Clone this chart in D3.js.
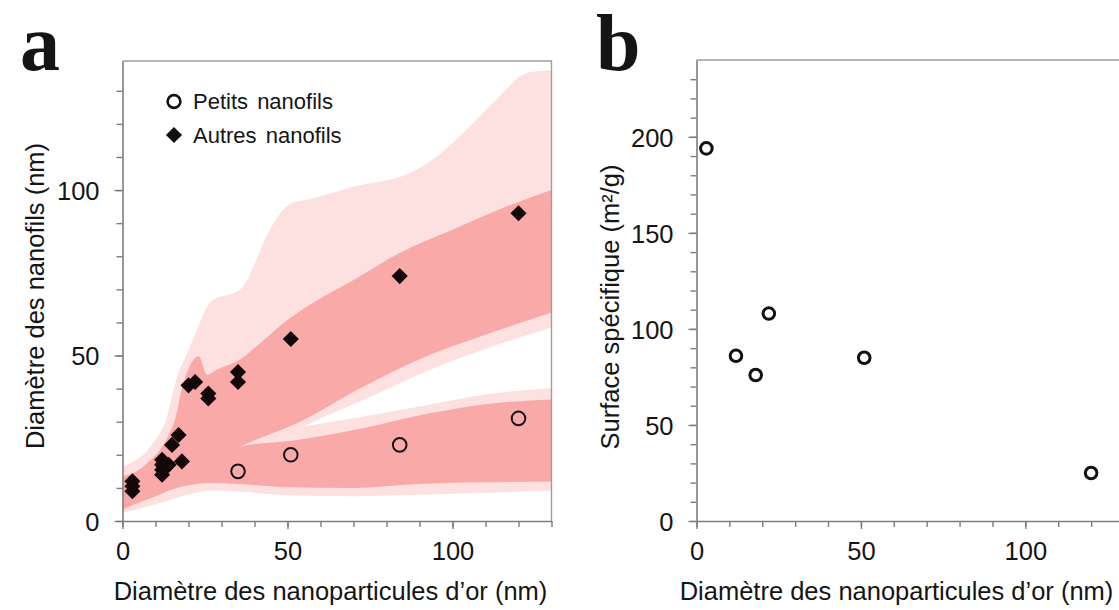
<!DOCTYPE html>
<html>
<head>
<meta charset="utf-8">
<script src="https://cdn.jsdelivr.net/npm/d3@7/dist/d3.min.js"></script>
<style>
  html, body { margin: 0; padding: 0; background: #fff; }
  svg { display: block; }
  text { font-family: "Liberation Sans", Arial, sans-serif; fill: #151515; }
</style>
</head>
<body>
<svg id="chart" width="1119" height="610"></svg>
<script>
// ---------- DATA ----------
// Panel a : diamètre des nanofils vs diamètre des nanoparticules
const petitsX = [35, 51, 84, 120];
const petitsY = [15, 20, 23, 31];

const autresX = [3, 3, 3, 12, 12, 12, 12, 13, 14, 15, 17, 18, 20, 22, 26, 26, 35, 35, 51, 84, 120];
const autresY = [9, 10.5, 12, 14, 15.5, 17, 18.5, 16, 17, 23, 26, 18, 41, 42, 37, 38.5, 42, 45, 55, 74, 93];

// shaded bands (boundaries as [x, y] pairs, data units)
const autresLightUpper = [[0,16.5],[5,19],[10,24.5],[13,30],[16.6,43.7],[19.6,50.8],[22.5,57.5],[25.7,64.9],[28.7,67.5],[32.7,68.5],[36.7,71],[39.7,77],[42.7,84],[47.8,93],[50.9,95.8],[57,97.3],[70,101],[87.5,105.3],[95,110],[103.5,117.5],[113,127],[123,135.5],[130,136.2]];
const autresLightLower = [[0,3],[20,10],[35.8,18],[54.9,28.6],[73.2,36.7],[93.4,45.8],[110,52],[130,58.5]];
const autresDarkUpper = [[0,13.5],[5,15.5],[8,18],[11,21],[14,26],[16,31],[18,40],[20,46],[23.1,49.8],[25.6,44.2],[28.6,45.8],[34.7,48.3],[41.8,53.8],[48.9,59.9],[57,65.5],[70.3,73],[84,81],[100,88],[115,94.5],[130,100]];
const autresDarkLower = [[0,6],[15,12],[30,19.5],[35.8,22.5],[53,29.6],[73.2,40.7],[93.4,50.3],[110,56.3],[130,63]];
const petitsLightUpper = [[0,14],[20,20],[35.8,25],[54.9,28.6],[73.2,31.6],[93.4,35.2],[110,38.2],[130,40.2]];
const petitsLightLower = [[0,2.5],[10,5],[20,8],[26,9.2],[35,8.9],[50,7.8],[70,7.5],[90,7.9],[110,8.5],[130,9.2]];
const petitsDarkUpper = [[0,10],[15,16],[30,21],[35.8,22.5],[53,24.5],[73.2,28.1],[93.4,32.6],[110,35.3],[130,36.7]];
const petitsDarkLower = [[0,3.5],[5,5.5],[10,7.5],[15,9.5],[20,10.8],[26,11.5],[35,11.2],[50,10.2],[70,10],[90,11.2],[110,11.7],[130,11.9]];

// Panel b : surface spécifique
const surfX = [3, 12, 18, 22, 51, 120];
const surfY = [194, 86, 76, 108, 85, 25];

// ticks
const xMajorTicks = [0, 50, 100];
const xMinorTicks = d3.range(0, 131, 10);
const aYMajorTicks = [0, 50, 100];
const aYMinorTicks = d3.range(0, 131, 10);
const bYMajorTicks = [0, 50, 100, 150, 200];
const bYMinorTicks = d3.range(0, 231, 10);

const legendLabels = ["Petits nanofils", "Autres nanofils"];
const xTitle = "Diamètre des nanoparticules d’or (nm)";
const aYTitle = "Diamètre des nanofils (nm)";
const bYTitle = "Surface spécifique (m²/g)";

// ---------- STYLE ----------
const LIGHT = "#fde0e0";
const DARK = "#faa9a9";
const AXIS = "#7d7d7d";
const FRAME = "#9d9d9d";

const svg = d3.select("#chart");

// ---------- PANEL A ----------
const ax = d3.scaleLinear().domain([0, 130]).range([122.5, 551.5]);
const ay = d3.scaleLinear().domain([0, 139]).range([521, 61]);

const defs = svg.append("defs");
defs.append("clipPath").attr("id", "plotA").append("rect")
  .attr("x", ax(0)).attr("y", ay(139)).attr("width", ax(130) - ax(0)).attr("height", ay(0) - ay(139));

const gA = svg.append("g");
const bandLayer = gA.append("g").attr("clip-path", "url(#plotA)");

function band(upper, lower, color, id) {
  // region above 'lower' (clip) intersected with region below 'upper'
  const above = d3.area().curve(d3.curveMonotoneX)
    .x(d => ax(d[0])).y0(d => ay(d[1])).y1(() => ay(139) - 50);
  const below = d3.area().curve(d3.curveMonotoneX)
    .x(d => ax(d[0])).y0(() => ay(0) + 50).y1(d => ay(d[1]));
  defs.append("clipPath").attr("id", id).append("path").attr("d", above(lower));
  bandLayer.append("g").attr("clip-path", `url(#${id})`)
    .append("path").attr("d", below(upper)).attr("fill", color);
}
band(autresLightUpper, autresLightLower, LIGHT, "cAL");
band(petitsLightUpper, petitsLightLower, LIGHT, "cPL");
band(autresDarkUpper, autresDarkLower, DARK, "cAD");
band(petitsDarkUpper, petitsDarkLower, DARK, "cPD");

// frame (top & right)
gA.append("path")
  .attr("d", `M${ax(0)},${ay(139)}H${ax(130)}V${ay(0)}`)
  .attr("fill", "none").attr("stroke", FRAME).attr("stroke-width", 1.4);

function styleAxis(g) {
  g.selectAll("path.domain").attr("stroke", AXIS).attr("stroke-width", 1.6);
  g.selectAll(".tick line").attr("stroke", AXIS).attr("stroke-width", 1.4);
  g.selectAll(".tick text").style("font-size", "25.5px").attr("fill", "#151515")
    .style("font-family", '"Liberation Sans", Arial, sans-serif');
}

function drawAxes(xs, ys, yMinor, yMajor) {
  const gxm = svg.append("g").attr("transform", `translate(0,${ys(0)})`)
    .call(d3.axisBottom(xs).tickValues(xMinorTicks.filter(v => xs(v) <= 1119)).tickSize(6).tickFormat(""));
  gxm.select("path.domain").remove();
  styleAxis(gxm);
  const gx = svg.append("g").attr("transform", `translate(0,${ys(0)})`)
    .call(d3.axisBottom(xs).tickValues(xMajorTicks).tickSize(8).tickPadding(13).tickFormat(d3.format("d")).tickSizeOuter(0));
  styleAxis(gx);
  const gym = svg.append("g").attr("transform", `translate(${xs(0)},0)`)
    .call(d3.axisLeft(ys).tickValues(yMinor).tickSize(6).tickFormat(""));
  gym.select("path.domain").remove();
  styleAxis(gym);
  const gy = svg.append("g").attr("transform", `translate(${xs(0)},0)`)
    .call(d3.axisLeft(ys).tickValues(yMajor).tickSize(8).tickPadding(15).tickFormat(d3.format("d")).tickSizeOuter(0));
  styleAxis(gy);
  gy.selectAll(".tick text").attr("dy", "0.36em");
}
drawAxes(ax, ay, aYMinorTicks, aYMajorTicks);

// points
const diamond = d3.symbol().type(d3.symbolSquare).size(130);
gA.append("g").selectAll("path").data(autresX.map((x, i) => [x, autresY[i]])).join("path")
  .attr("d", diamond)
  .attr("transform", d => `translate(${ax(d[0])},${ay(d[1])}) rotate(45)`)
  .attr("fill", "#140707");

gA.append("g").selectAll("circle").data(petitsX.map((x, i) => [x, petitsY[i]])).join("circle")
  .attr("cx", d => ax(d[0])).attr("cy", d => ay(d[1])).attr("r", 6.8)
  .attr("fill", "none").attr("stroke", "#151515").attr("stroke-width", 2);

// legend
const lg = gA.append("g");
lg.append("circle").attr("cx", 174).attr("cy", 101.5).attr("r", 6.4)
  .attr("fill", "none").attr("stroke", "#111").attr("stroke-width", 2.6);
lg.append("path").attr("d", diamond).attr("transform", "translate(174,135) rotate(45)").attr("fill", "#111");
lg.selectAll("text").data(legendLabels).join("text")
  .attr("x", 193).attr("y", (d, i) => 109 + i * 34)
  .style("font-size", "22px").style("word-spacing", "3px")
  .text(d => d);

// titles
svg.append("text").attr("x", 330.5).attr("y", 600)
  .attr("text-anchor", "middle").style("font-size", "25.5px").text(xTitle);
svg.append("text").attr("transform", `translate(44,296) rotate(-90)`)
  .attr("text-anchor", "middle").style("font-size", "25.5px").text(aYTitle);
svg.append("text").attr("x", 20).attr("y", 70)
  .style("font-family", '"Liberation Serif", "Times New Roman", serif')
  .style("font-weight", "bold").style("font-size", "80px").attr("fill", "#000").text("a");

// ---------- PANEL B ----------
const bx = d3.scaleLinear().domain([0, 130]).range([696.5, 1124]);
const by = d3.scaleLinear().domain([0, 240]).range([521, 60]);

svg.append("path").attr("d", `M${bx(0)},${by(240)}H1119`)
  .attr("stroke", FRAME).attr("stroke-width", 1.4).attr("fill", "none");
drawAxes(bx, by, bYMinorTicks, bYMajorTicks);

svg.append("g").selectAll("circle").data(surfX.map((x, i) => [x, surfY[i]])).join("circle")
  .attr("cx", d => bx(d[0])).attr("cy", d => by(d[1])).attr("r", 5.8)
  .attr("fill", "none").attr("stroke", "#111").attr("stroke-width", 3);

svg.append("text").attr("x", 896.5).attr("y", 600)
  .attr("text-anchor", "middle").style("font-size", "25.5px").text(xTitle);
svg.append("text").attr("transform", `translate(619,307) rotate(-90)`)
  .attr("text-anchor", "middle").style("font-size", "25.5px").text(bYTitle);
svg.append("text").attr("x", 596).attr("y", 70)
  .style("font-family", '"Liberation Serif", "Times New Roman", serif')
  .style("font-weight", "bold").style("font-size", "80px").attr("fill", "#000").text("b");
</script>
</body>
</html>
